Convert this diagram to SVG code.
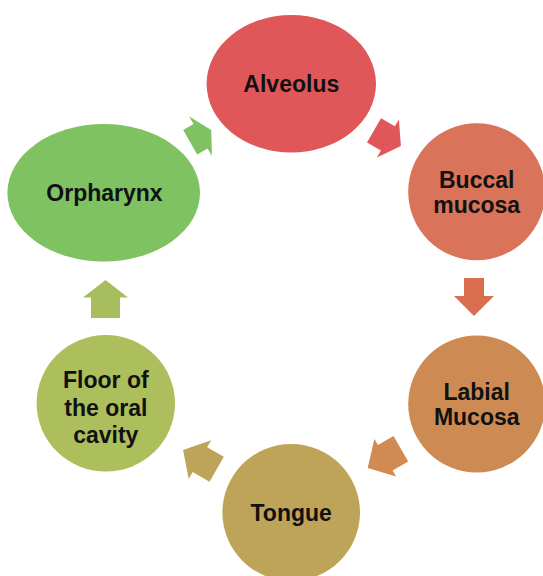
<svg xmlns="http://www.w3.org/2000/svg" width="543" height="576" viewBox="0 0 543 576">
<style>
.lbl{font-family:"Liberation Sans",Arial,sans-serif;font-weight:bold;font-size:23px;fill:#111;text-anchor:middle}
</style>
<rect width="543" height="576" fill="#fff"/>
<g id="connectors">
<polygon fill="#7EC262" points="183.2,130.1 193.6,124.1 189.2,116.6 211.2,130.1 211.9,155.9 207.6,148.4 197.2,154.4"/>
<polygon fill="#E0575A" points="381,118.3 394.9,126.3 398.9,119.4 400.9,145.9 376.9,157.5 380.9,150.5 367,142.5"/>
<polygon fill="#DC6E50" points="464,278 484,278 484,296 494,296 474,316 454,296 464,296"/>
<polygon fill="#D08A52" points="393.5,436 408.2,461.5 392.6,470.5 396.1,476.5 367.7,467.9 374.4,439 377.9,445"/>
<polygon fill="#BEA458" points="183.1,449.9 211.1,440.2 207.1,447.2 223.8,456.8 209.5,481.7 192.7,472 188.7,478.9"/>
<polygon fill="#A8BE5E" points="105.5,280 128,297.5 120,297.5 120,318 91,318 91,297.5 83,297.5"/>
</g>
<g id="alveolus">
<ellipse cx="291.3" cy="83.8" rx="84.7" ry="68.8" fill="#E0575A"/>
<text class="lbl" x="291.3" y="92">Alveolus</text>
</g>
<g id="buccal">
<ellipse cx="476.7" cy="191.7" rx="68.5" ry="68.5" fill="#D9735A"/>
<text class="lbl" x="476.7" y="187.5">Buccal</text>
<text class="lbl" x="476.7" y="213">mucosa</text>
</g>
<g id="labial">
<ellipse cx="476.7" cy="404" rx="68.5" ry="68.5" fill="#CD8A52"/>
<text class="lbl" x="476.7" y="399.5">Labial</text>
<text class="lbl" x="476.7" y="425">Mucosa</text>
</g>
<g id="tongue">
<ellipse cx="291.2" cy="512.5" rx="68.8" ry="68.5" fill="#BEA458"/>
<text class="lbl" x="291.2" y="520.5">Tongue</text>
</g>
<g id="floor">
<ellipse cx="105.8" cy="403.3" rx="69.2" ry="68.3" fill="#ADBE5C"/>
<text class="lbl" x="105.8" y="388">Floor of</text>
<text class="lbl" x="105.8" y="415.5">the oral</text>
<text class="lbl" x="105.8" y="443">cavity</text>
</g>
<g id="orpharynx">
<ellipse cx="103.7" cy="192.8" rx="96.3" ry="68.8" fill="#7EC262"/>
<text class="lbl" x="104.5" y="200.5">Orpharynx</text>
</g>
</svg>
